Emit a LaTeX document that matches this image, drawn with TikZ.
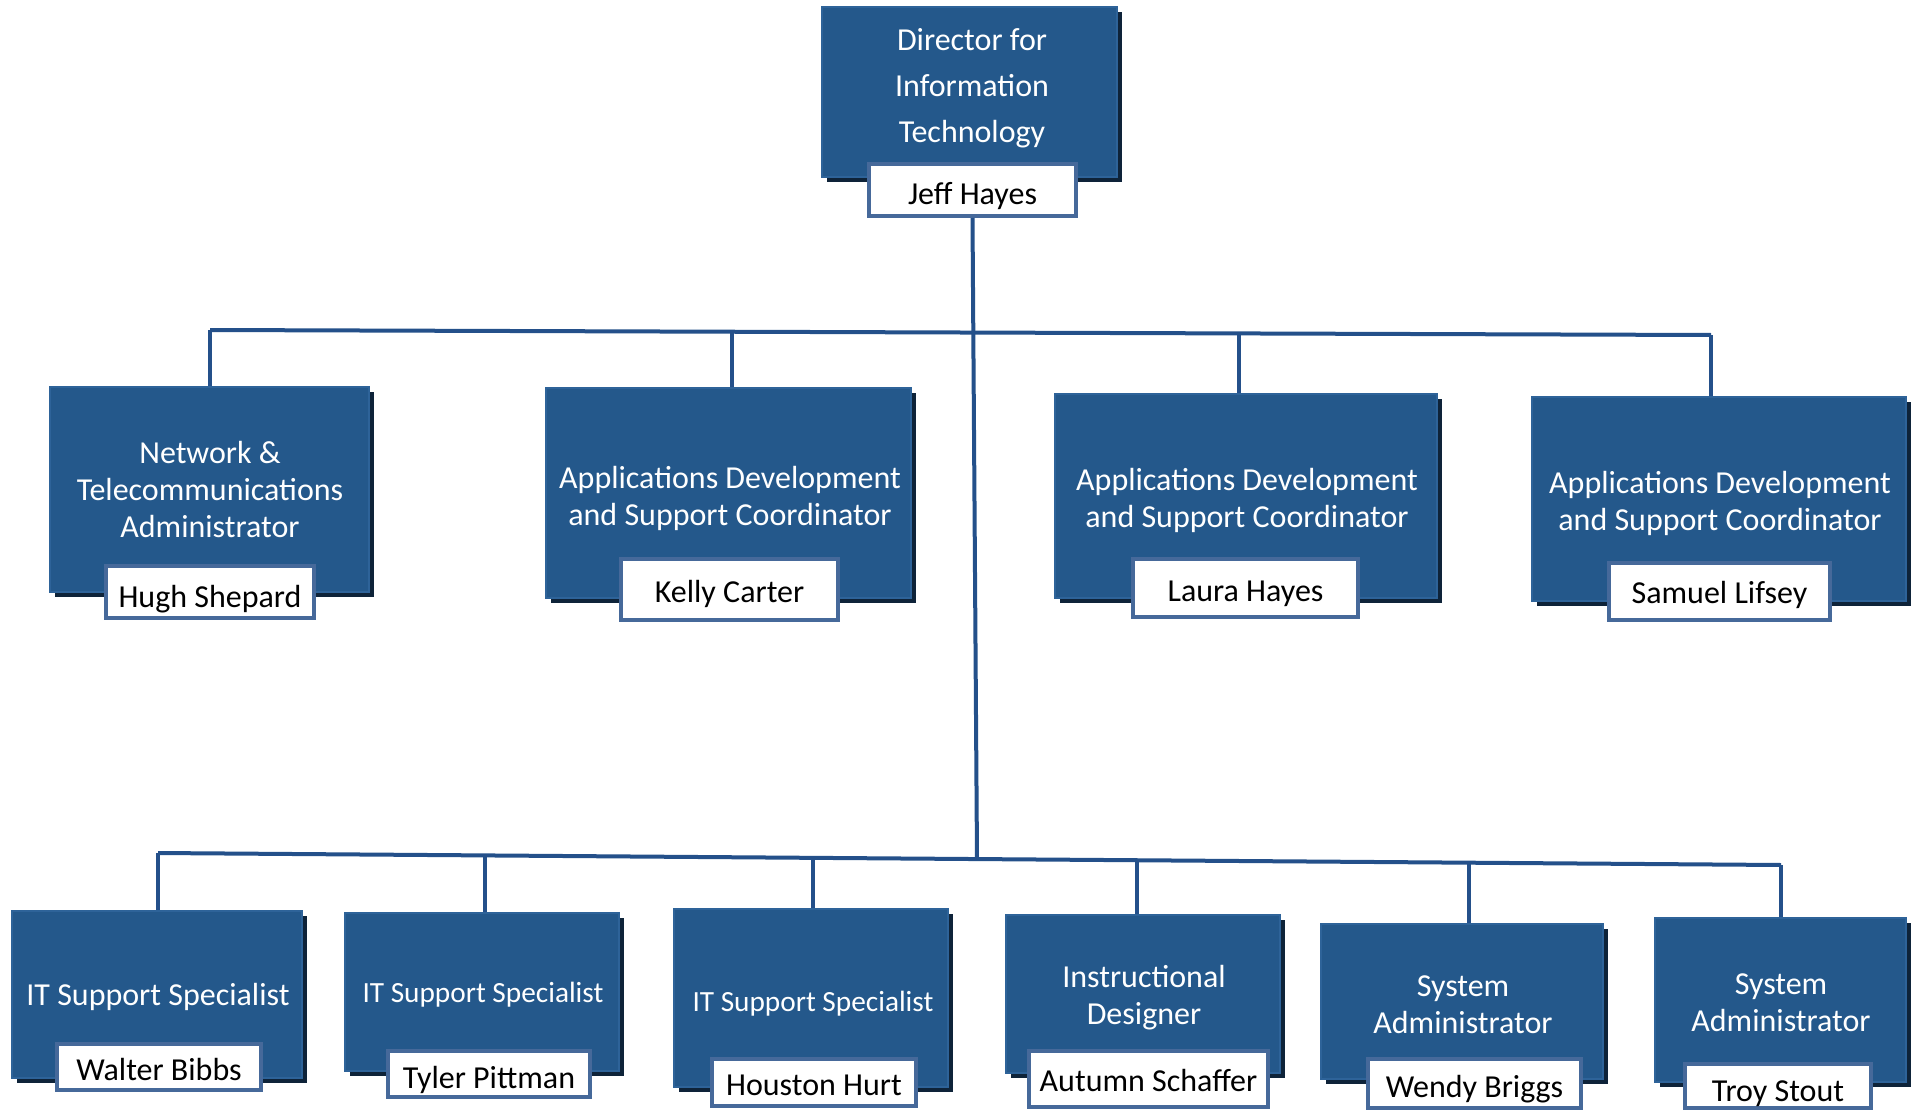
\documentclass[tikz,border=0pt]{standalone}
\usepackage{fontspec}
\setmainfont{Carlito}
\usetikzlibrary{shadows}
\definecolor{boxblue}{HTML}{24588B}
\definecolor{boxedge}{HTML}{2E6399}
\definecolor{shadowblue}{HTML}{0E2339}
\definecolor{nameedge}{HTML}{46699A}
\definecolor{linkblue}{HTML}{24508A}
\tikzset{
  rolebox/.style={fill=boxblue, draw=boxedge, line width=1.2pt, inner sep=0pt,
    drop shadow={shadow xshift=5pt, shadow yshift=-5pt, fill=shadowblue, opacity=1}},
  namebox/.style={fill=white, draw=nameedge, line width=4pt, inner sep=0pt, text=black,
    text height=#1, text depth=3pt, font=\fontsize{32}{38}\selectfont},
  namebox/.default=27pt,
  roletext/.style={text=white, align=center, inner sep=0pt, font=\fontsize{32}{37}\selectfont},
  smalltext/.style={roletext, font=\fontsize{29.3}{35}\selectfont},
  dirtext/.style={roletext, font=\fontsize{32}{46}\selectfont},
  link/.style={draw=linkblue, line width=4pt},
}
\begin{document}
\begin{tikzpicture}[x=1pt,y=-1pt]
\fill[white] (0,0) rectangle (1919,1110);
\useasboundingbox (0,0) rectangle (1919,1110);

% top
\node[rolebox, minimum width=295pt, minimum height=170pt] (r0) at (969.5,92) {};
\node[dirtext] (t0) at (972,88) {Director for\\Information\\Technology};
\node[namebox=33pt, minimum width=207pt, minimum height=52pt] (n0) at (972.5,190) {Jeff Hayes};

% second level
\node[rolebox, minimum width=319pt, minimum height=205pt] (r1) at (209.5,489.5) {};
\node[roletext] (t1) at (210,490) {Network \&\\Telecommunications\\Administrator};
\node[namebox=33pt, minimum width=208pt, minimum height=52pt] (n1) at (210,592) {Hugh Shepard};

\node[rolebox, minimum width=365pt, minimum height=210pt] (r2) at (728.5,493) {};
\node[roletext] (t2) at (730,498) {Applications Development\\and Support Coordinator};
\node[namebox=29pt, minimum width=217pt, minimum height=61pt] (n2) at (729.5,589.5) {Kelly Carter};

\node[rolebox, minimum width=382pt, minimum height=204pt] (r3) at (1246,496) {};
\node[roletext] (t3) at (1247,500) {Applications Development\\and Support Coordinator};
\node[namebox=29pt, minimum width=225pt, minimum height=58pt] (n3) at (1245.5,588) {Laura Hayes};

\node[rolebox, minimum width=374pt, minimum height=204pt] (r4) at (1719,499) {};
\node[roletext] (t4) at (1720,503) {Applications Development\\and Support Coordinator};
\node[namebox, minimum width=221pt, minimum height=57pt] (n4) at (1719.5,591.5) {Samuel Lifsey};

% third level
\node[rolebox, minimum width=290pt, minimum height=167pt] (b1) at (157,994.5) {};
\node[roletext] (u1) at (158,997) {IT Support Specialist};
\node[namebox=30pt, minimum width=204pt, minimum height=46pt] (w1) at (159,1067) {Walter Bibbs};

\node[rolebox, minimum width=274pt, minimum height=158pt] (b2) at (482,992) {};
\node[smalltext] (u2) at (483,995) {IT Support Specialist};
\node[namebox=31pt, minimum width=202pt, minimum height=46pt] (w2) at (489,1074) {Tyler Pittman};

\node[rolebox, minimum width=274pt, minimum height=178pt] (b3) at (811,998) {};
\node[smalltext] (u3) at (813,1004) {IT Support Specialist};
\node[namebox=29pt, minimum width=204pt, minimum height=47pt] (w3) at (814,1082.5) {Houston Hurt};

\node[rolebox, minimum width=274pt, minimum height=158pt] (b4) at (1143,994) {};
\node[roletext] (u4) at (1144,998) {Instructional\\Designer};
\node[namebox, minimum width=239pt, minimum height=56pt] (w4) at (1148.5,1079) {Autumn Schaffer};

\node[rolebox, minimum width=282pt, minimum height=155pt] (b5) at (1462,1001.5) {};
\node[roletext] (u5) at (1463,1005) {System\\Administrator};
\node[namebox=31pt, minimum width=213pt, minimum height=49pt] (w5) at (1474.5,1083.5) {Wendy Briggs};

\node[rolebox, minimum width=251pt, minimum height=164pt] (b6) at (1780.5,1000) {};
\node[roletext] (u6) at (1781,1003) {System\\Administrator};
\node[namebox=33pt, minimum width=186pt, minimum height=44pt] (w6) at (1778,1086) {Troy Stout};

% connectors
\coordinate (jb) at (977,859);
\draw[link] (n0.south) -- (jb);

\coordinate (d1) at (210,330);
\coordinate (d2) at (732,332);
\coordinate (d3) at (1239,334);
\coordinate (d4) at (1711,335);
\draw[link] (d1) -- (d4);
\draw[link] (d1) -- (d1 |- r1.north);
\draw[link] (d2) -- (d2 |- r2.north);
\draw[link] (d3) -- (d3 |- r3.north);
\draw[link] (d4) -- (d4 |- r4.north);

\coordinate (e1) at (158,853);
\coordinate (e2) at (485,855.4);
\coordinate (e3) at (813,857.8);
\coordinate (e4) at (1137,860.2);
\coordinate (e5) at (1469,862.7);
\coordinate (e6) at (1781,865);
\draw[link] (e1) -- (e6);
\draw[link] (e1) -- (e1 |- b1.north);
\draw[link] (e2) -- (e2 |- b2.north);
\draw[link] (e3) -- (e3 |- b3.north);
\draw[link] (e4) -- (e4 |- b4.north);
\draw[link] (e5) -- (e5 |- b5.north);
\draw[link] (e6) -- (e6 |- b6.north);
\end{tikzpicture}
\end{document}
